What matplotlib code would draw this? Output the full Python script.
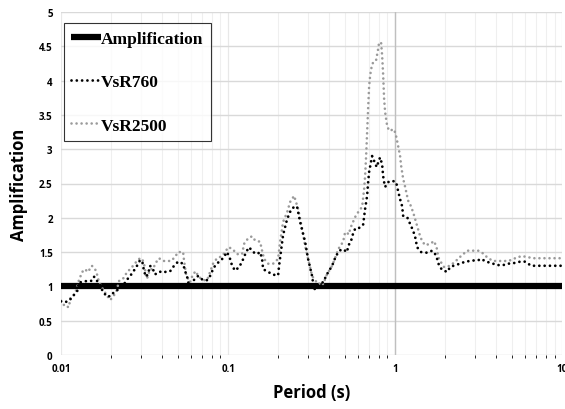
import matplotlib.pyplot as plt
from matplotlib.ticker import LogLocator, FixedLocator, FuncFormatter

# 周期 (s) 与放大系数
t_760 = [0.0100, 0.0106, 0.0112, 0.0118, 0.0125, 0.0128, 0.0134, 0.0143, 0.0153, 0.0158,
         0.0164, 0.0169, 0.0178, 0.0189, 0.0199, 0.0208, 0.0219, 0.0232, 0.0245, 0.0259,
         0.0270, 0.0285, 0.0297, 0.0306, 0.0310, 0.0314, 0.0323, 0.0332, 0.0341, 0.0356,
         0.0361, 0.0376, 0.0397, 0.0420, 0.0450, 0.0475, 0.0502, 0.0538, 0.0553, 0.0568,
         0.0576, 0.0600, 0.0617, 0.0661, 0.0708, 0.0749, 0.0780, 0.0813, 0.0836, 0.0883,
         0.0933, 0.0986, 0.1028, 0.1057, 0.1101, 0.1164, 0.1213, 0.1282, 0.1336, 0.1412,
         0.1492, 0.1555, 0.1598, 0.1621, 0.1736, 0.1860, 0.1993, 0.2020, 0.2135, 0.2257,
         0.2384, 0.2519, 0.2589, 0.2699, 0.2892, 0.3013, 0.3184, 0.3273, 0.3459, 0.3707,
         0.3916, 0.4196, 0.4434, 0.4750, 0.5020, 0.5160, 0.5232, 0.5451, 0.5527, 0.5761,
         0.6003, 0.6434, 0.6612, 0.6797, 0.6894, 0.6989, 0.7283, 0.7384, 0.7590, 0.7802,
         0.7911, 0.8130, 0.8359, 0.8474, 0.8594, 0.8713, 0.9081, 0.9594, 1.014, 1.042,
         1.071, 1.101, 1.117, 1.180, 1.229, 1.282, 1.318, 1.354, 1.432, 1.555,
         1.666, 1.736, 1.784, 1.834, 1.912, 2.048, 2.135, 2.287, 2.450, 2.626,
         2.813, 3.013, 3.141, 3.273, 3.506, 3.757, 4.081, 4.434, 4.750, 5.160,
         5.603, 6.003, 6.524, 7.084, 7.590, 8.245, 8.834, 9.728, 10.0]
a_760 = [0.78, 0.77, 0.79, 0.86, 0.93, 1.06, 1.06, 1.08, 1.08, 1.14,
         1.08, 1.06, 0.92, 0.85, 0.86, 0.92, 0.95, 0.98, 1.08, 1.15,
         1.21, 1.30, 1.38, 1.37, 1.30, 1.22, 1.14, 1.18, 1.30, 1.25,
         1.18, 1.18, 1.22, 1.21, 1.22, 1.30, 1.36, 1.33, 1.22, 1.15,
         1.06, 1.01, 1.08, 1.15, 1.09, 1.09, 1.15, 1.25, 1.30, 1.36,
         1.41, 1.50, 1.40, 1.30, 1.23, 1.28, 1.36, 1.50, 1.57, 1.50,
         1.47, 1.50, 1.40, 1.25, 1.21, 1.17, 1.16, 1.30, 1.75, 1.98,
         2.12, 2.17, 2.16, 1.94, 1.65, 1.40, 1.15, 0.95, 1.03, 1.06,
         1.18, 1.30, 1.45, 1.54, 1.52, 1.50, 1.59, 1.66, 1.73, 1.84,
         1.84, 1.90, 2.13, 2.32, 2.52, 2.67, 2.90, 2.88, 2.78, 2.74,
         2.81, 2.88, 2.78, 2.61, 2.52, 2.45, 2.52, 2.54, 2.52, 2.39,
         2.27, 2.17, 2.03, 2.01, 1.91, 1.81, 1.72, 1.57, 1.50, 1.49,
         1.52, 1.47, 1.40, 1.30, 1.24, 1.21, 1.28, 1.31, 1.33, 1.36,
         1.37, 1.38, 1.38, 1.40, 1.36, 1.34, 1.31, 1.31, 1.33, 1.34,
         1.36, 1.36, 1.30, 1.30, 1.30, 1.30, 1.30, 1.30, 1.30]

t_2500 = [0.0100, 0.0106, 0.0112, 0.0113, 0.0119, 0.0124, 0.0128, 0.0134, 0.0139, 0.0145,
          0.0153, 0.0160, 0.0164, 0.0169, 0.0178, 0.0189, 0.0197, 0.0205, 0.0214, 0.0223,
          0.0235, 0.0249, 0.0259, 0.0270, 0.0285, 0.0297, 0.0306, 0.0314, 0.0323, 0.0327,
          0.0341, 0.0356, 0.0366, 0.0386, 0.0408, 0.0431, 0.0456, 0.0482, 0.0502, 0.0538,
          0.0546, 0.0560, 0.0576, 0.0592, 0.0617, 0.0643, 0.0661, 0.0708, 0.0749, 0.0780,
          0.0813, 0.0859, 0.0921, 0.0973, 0.1000, 0.1057, 0.1132, 0.1213, 0.1247, 0.1318,
          0.1392, 0.1451, 0.1555, 0.1598, 0.1643, 0.1736, 0.1860, 0.1993, 0.2048, 0.2135,
          0.2257, 0.2351, 0.2485, 0.2625, 0.2774, 0.2892, 0.3013, 0.3184, 0.3459, 0.3656,
          0.3707, 0.3916, 0.4196, 0.4434, 0.4558, 0.4882, 0.5020, 0.5304, 0.5378, 0.5603,
          0.5761, 0.6003, 0.6346, 0.6524, 0.6612, 0.6705, 0.6797, 0.6894, 0.6989, 0.7084,
          0.7183, 0.7384, 0.7696, 0.7911, 0.8021, 0.8245, 0.8359, 0.8474, 0.8594, 0.8713,
          0.8958, 0.9206, 0.9863, 1.014, 1.042, 1.071, 1.086, 1.117, 1.148, 1.164,
          1.196, 1.229, 1.282, 1.354, 1.412, 1.451, 1.512, 1.620, 1.712, 1.784,
          1.809, 1.860, 1.965, 2.135, 2.287, 2.450, 2.699, 2.932, 3.141, 3.319,
          3.606, 3.863, 4.196, 4.558, 4.882, 5.232, 5.682, 6.171, 6.612, 7.183,
          7.696, 8.359, 9.081, 10.0]
a_2500 = [0.79, 0.70, 0.70, 0.82, 0.86, 0.96, 1.09, 1.21, 1.25, 1.21,
          1.30, 1.25, 1.18, 1.06, 0.96, 0.86, 0.80, 0.85, 0.92, 1.08,
          1.11, 1.21, 1.25, 1.30, 1.37, 1.41, 1.40, 1.33, 1.15, 1.11,
          1.25, 1.25, 1.33, 1.41, 1.37, 1.37, 1.37, 1.43, 1.50, 1.50,
          1.36, 1.18, 1.11, 1.06, 1.18, 1.22, 1.15, 1.09, 1.09, 1.21,
          1.33, 1.41, 1.44, 1.52, 1.57, 1.55, 1.47, 1.47, 1.62, 1.70,
          1.73, 1.67, 1.65, 1.52, 1.40, 1.33, 1.33, 1.40, 1.65, 1.94,
          2.08, 2.23, 2.32, 2.13, 1.84, 1.59, 1.40, 1.15, 1.03, 1.06,
          1.03, 1.18, 1.30, 1.45, 1.54, 1.65, 1.79, 1.76, 1.84, 1.94,
          2.01, 2.08, 2.16, 2.42, 2.61, 2.90, 3.25, 3.60, 3.92, 4.07,
          4.17, 4.27, 4.30, 4.46, 4.56, 4.55, 4.37, 4.10, 3.73, 3.54,
          3.34, 3.27, 3.29, 3.19, 3.05, 2.90, 2.76, 2.57, 2.45, 2.38,
          2.25, 2.20, 2.08, 1.88, 1.73, 1.66, 1.60, 1.62, 1.66, 1.54,
          1.43, 1.37, 1.28, 1.30, 1.36, 1.43, 1.52, 1.52, 1.52, 1.49,
          1.41, 1.37, 1.37, 1.37, 1.38, 1.41, 1.44, 1.43, 1.41, 1.41,
          1.41, 1.41, 1.41, 1.41]

t_amp = [0.01, 10.0]
a_amp = [1.0, 1.0]

fig = plt.figure(figsize=(5.65, 4.10), dpi=100)
ax = fig.add_axes([0.108, 0.132, 0.887, 0.836])

dot = (0, (0.01, 1.9))
ax.plot(t_amp, a_amp, color='black', lw=4.5, solid_capstyle='butt',
        label='Amplification', zorder=3)
ax.plot(t_760, a_760, color='black', lw=2.0, linestyle=dot,
        dash_capstyle='round', label='VsR760', zorder=4)
ax.plot(t_2500, a_2500, color='#9a9a9a', lw=1.9, linestyle=dot,
        dash_capstyle='round', label='VsR2500', zorder=3.5)

ax.set_xscale('log')
ax.set_xlim(0.01, 10)
ax.set_ylim(0, 5)
ax.set_yticks([0, 0.5, 1, 1.5, 2, 2.5, 3, 3.5, 4, 4.5, 5])
ax.yaxis.set_major_formatter(FuncFormatter(lambda v, p: f'{v:g}'))
ax.xaxis.set_major_locator(FixedLocator([0.01, 0.1, 1, 10]))
ax.xaxis.set_major_formatter(FuncFormatter(lambda v, p: f'{v:g}'))
ax.xaxis.set_minor_locator(LogLocator(base=10, subs=range(2, 10)))
ax.xaxis.set_minor_formatter(FuncFormatter(lambda v, p: ''))

ax.grid(True, which='major', axis='y', color='#d9d9d9', lw=1.0)
ax.grid(True, which='major', axis='x', color='#e8e8e8', lw=0.9)
ax.grid(True, which='minor', axis='x', color='#efefef', lw=0.8)
ax.axvline(1, color='#bfbfbf', lw=1.0, zorder=1)
for s in ax.spines.values():
    s.set_visible(False)
ax.tick_params(length=0, labelsize=7, pad=6)
for lab in ax.get_xticklabels() + ax.get_yticklabels():
    lab.set_fontweight('bold')
    lab.set_family('Open Sans')
ax.set_axisbelow(True)

ax.set_xlabel('Period (s)', fontsize=12, fontweight='bold', family='Open Sans', labelpad=6)
ax.set_ylabel('Amplification', fontsize=12, fontweight='bold', family='Open Sans', labelpad=8)

leg = ax.legend(loc='upper left', bbox_to_anchor=(0.005, 0.967),
                prop={'family': 'Liberation Serif', 'weight': 'bold', 'size': 12.5},
                frameon=True, fancybox=False, handlelength=1.7, handletextpad=0.0,
                labelspacing=1.55, borderpad=0.45, borderaxespad=0)
leg.get_frame().set_edgecolor('black')
leg.get_frame().set_linewidth(0.8)

fig.savefig('out.png', dpi=100)
